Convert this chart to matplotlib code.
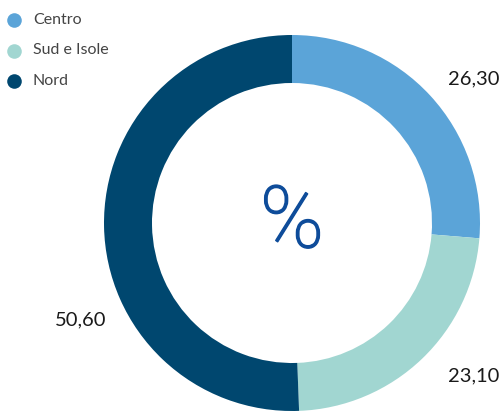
import matplotlib
matplotlib.use('Agg')
import matplotlib.pyplot as plt
import matplotlib.patheffects as pe

# data
regions = ['Centro', 'Sud e Isole', 'Nord']
shares = [26.30, 23.10, 50.60]
share_labels = ['26,30', '23,10', '50,60']
colors = ['#5ba4d8', '#a1d6d1', '#00476f']

plt.rcParams['font.family'] = ['Lato', 'DejaVu Sans']

fig = plt.figure(figsize=(5.02, 4.13), dpi=100)
ax = fig.add_axes([0, 0, 1, 1])

cx, cy, r = 292, 190, 188
ax.pie(shares, colors=colors, startangle=90, counterclock=False,
       center=(cx, cy), radius=r, frame=True,
       wedgeprops=dict(width=48, linewidth=0))
ax.set_xlim(0, 502)
ax.set_ylim(0, 413)
ax.set_aspect('equal')
ax.axis('off')

# value labels
label_pos = [(474, 334), (474, 37), (81, 93)]
for (x, y), txt in zip(label_pos, share_labels):
    ax.text(x, y, txt, fontsize=14.5, color='#1a1a1a', ha='center', va='center')

pct = ax.text(cx, cy - 1, '%', fontsize=62, color='#0e4c9a', family=['Roboto', 'DejaVu Sans'],
              fontweight='light', ha='center', va='center')
pct.set_path_effects([pe.Stroke(linewidth=1.1, foreground='#0e4c9a'), pe.Normal()])

# legend
for i, (name, c) in enumerate(zip(regions, colors)):
    y = 393 - i * 30.5
    ax.scatter([14], [y], s=110, color=c, linewidths=0)
    ax.text(33, y, name, fontsize=11.5, color='#444444', va='center')

fig.savefig('out.png', dpi=100)
